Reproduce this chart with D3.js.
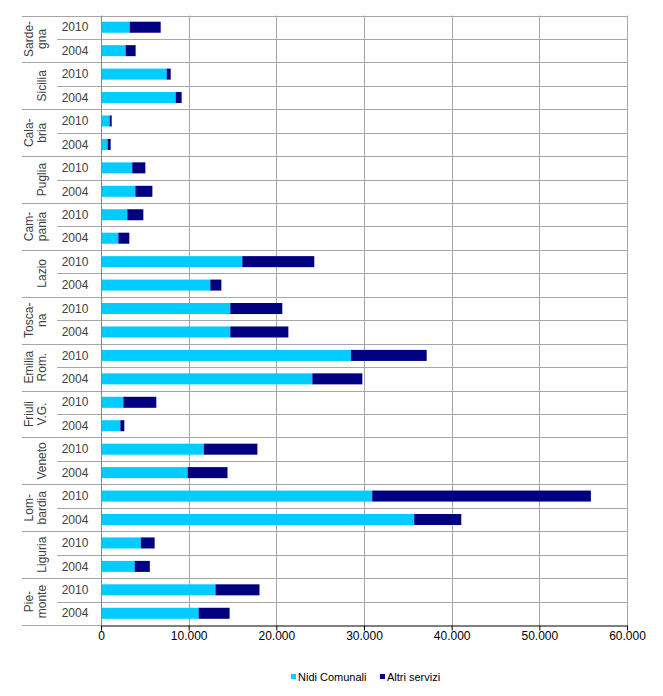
<!DOCTYPE html>
<html>
<head>
<meta charset="utf-8">
<script src="https://cdn.jsdelivr.net/npm/d3@7"></script>
<style>
  body { margin: 0; background: #fff; }
  text { font-family: "Liberation Sans", Arial, sans-serif; }
</style>
</head>
<body>
<script>
var width = 663,
    height = 696;

// regions top to bottom, label split into lines as in the original
var regions = ["Sardegna", "Sicilia", "Calabria", "Puglia", "Campania", "Lazio", "Toscana",
               "Emilia Rom.", "Friuli V.G.", "Veneto", "Lombardia", "Liguria", "Piemonte"];
var regionLines = [["Sarde-", "gna"], ["Sicilia"], ["Cala-", "bria"], ["Puglia"], ["Cam-", "pania"],
                   ["Lazio"], ["Tosca-", "na"], ["Emilia", "Rom."], ["Friuli", "V.G."], ["Veneto"],
                   ["Lom-", "bardia"], ["Liguria"], ["Pie-", "monte"]];
var years = ["2010", "2004"];

// values per region, [2010, 2004]
var nidi = [[3270, 2810], [7490, 8520], [990, 760], [3570, 3920], [3000, 1980], [16120, 12470],
            [14750, 14750], [28500, 24110], [2550, 2210], [11730, 9880], [30940, 35730],
            [4550, 3840], [13060, 11140]];
var altri = [[3540, 1140], [460, 680], [230, 340], [1490, 1940], [1830, 1250], [8210, 1260],
             [5930, 6620], [8650, 5700], [3760, 450], [6110, 4550], [24940, 5370],
             [1570, 1730], [5020, 3530]];

var seriesNames = ["Nidi Comunali", "Altri servizi"];
var colors = ["#00ccff", "#000080"];
var xTicks = [0, 10000, 20000, 30000, 40000, 50000, 60000];

var rows = [];
regions.forEach((r, i) => {
  years.forEach((y, j) => {
    rows.push({key: r + "|" + y, region: i, year: y, "Nidi Comunali": nidi[i][j], "Altri servizi": altri[i][j]});
  });
});

var svg = d3.select("body").append("svg")
    .attr("width", width)
    .attr("height", height);

var plotLeft = 101, plotRight = 627, plotTop = 15.5, plotBottom = 625;
var pad = 0.53;

var x = d3.scaleLinear().domain([0, 60000]).range([plotLeft, plotRight]);
var y = d3.scaleBand().domain(rows.map(d => d.key)).range([plotTop, plotBottom])
    .paddingInner(pad).paddingOuter(pad / 2);
var step = y.step();

// vertical gridlines
svg.append("g").selectAll("line")
  .data(xTicks.slice(1))
  .join("line")
    .attr("x1", d => Math.round(x(d)) + 0.5).attr("x2", d => Math.round(x(d)) + 0.5)
    .attr("y1", plotTop).attr("y2", plotBottom)
    .attr("stroke", "#a6a6a6");

// horizontal row lines (region borders go further left)
var lineYs = d3.range(rows.length + 1).map(i => plotTop + i * step);
svg.append("g").selectAll("line")
  .data(lineYs)
  .join("line")
    .attr("x1", (d, i) => i % 2 === 0 ? 22 : 57)
    .attr("x2", (d, i) => i === rows.length ? plotLeft : plotRight)
    .attr("y1", d => Math.round(d) + 0.5).attr("y2", d => Math.round(d) + 0.5)
    .attr("stroke", "#a6a6a6");

// bars
var stack = d3.stack().keys(seriesNames);
svg.append("g").selectAll("g")
  .data(stack(rows))
  .join("g")
    .attr("fill", (d, i) => colors[i])
  .selectAll("rect")
  .data(d => d)
  .join("rect")
    .attr("x", d => x(d[0]))
    .attr("width", d => x(d[1]) - x(d[0]))
    .attr("y", d => y(d.data.key))
    .attr("height", y.bandwidth());

// left axis line
svg.append("line")
    .attr("x1", plotLeft + 0.5).attr("x2", plotLeft + 0.5)
    .attr("y1", plotTop).attr("y2", plotBottom)
    .attr("stroke", "#868686");

// bottom axis
var xAxis = svg.append("g")
    .attr("transform", `translate(0,${Math.round(plotBottom) + 0.5})`)
    .call(d3.axisBottom(x).tickValues(xTicks).tickSize(5).tickSizeOuter(0)
      .tickFormat(d => d3.format(",")(d).replace(/,/g, ".")));
xAxis.select(".domain").attr("stroke", "#000");
xAxis.selectAll(".tick line").attr("stroke", "#000");
xAxis.selectAll("text")
    .attr("font-family", "Liberation Sans, Arial, sans-serif")
    .attr("font-size", 12)
    .attr("fill", "#000")
    .attr("dy", "0.55em");

// year labels
svg.append("g").selectAll("text")
  .data(rows)
  .join("text")
    .attr("x", 75)
    .attr("y", d => y(d.key) + y.bandwidth() / 2)
    .attr("dy", "0.35em")
    .attr("text-anchor", "middle")
    .attr("font-size", 12)
    .attr("fill", "#404040")
    .text(d => d.year);

// region labels, rotated
var regionG = svg.append("g").selectAll("text")
  .data(regionLines)
  .join("text")
    .attr("transform", (d, i) => {
      var cy = plotTop + (i * 2 + 1) * step;
      return `translate(0,${cy}) rotate(-90)`;
    })
    .attr("text-anchor", "middle")
    .attr("font-size", 12)
    .attr("fill", "#404040");

regionG.selectAll("tspan")
  .data(d => d.length === 1 ? [{t: d[0], line: 1}] : d.map((t, k) => ({t: t, line: k})))
  .join("tspan")
    .attr("x", 0)
    .attr("y", d => d.line === 0 ? 33 : 46)
    .text(d => d.t);

// legend
var legend = svg.append("g").attr("transform", "translate(0,677)");
var legendX = [291, 380];
seriesNames.forEach((s, i) => {
  legend.append("rect")
      .attr("x", legendX[i]).attr("y", -3)
      .attr("width", 5).attr("height", 5)
      .attr("fill", colors[i]);
  legend.append("text")
      .attr("x", legendX[i] + 7).attr("y", 0)
      .attr("dy", "0.35em")
      .attr("font-size", 11)
      .attr("fill", "#000")
      .text(s);
});
</script>
</body>
</html>
